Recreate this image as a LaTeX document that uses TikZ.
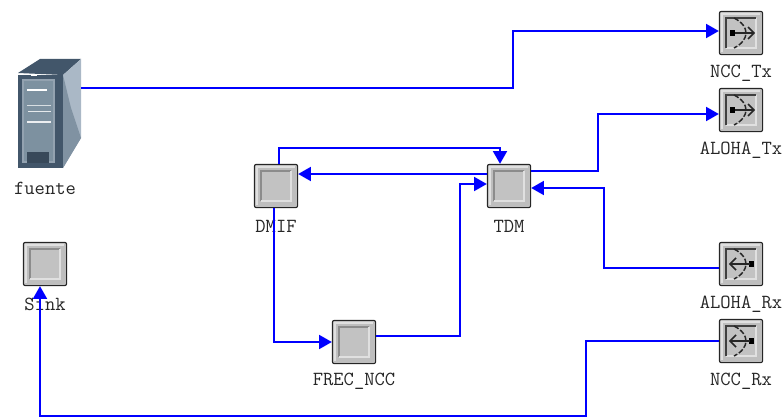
\documentclass[tikz,border=0pt]{standalone}
\usetikzlibrary{arrows.meta, shapes.geometric}
\definecolor{modgray}{RGB}{190,190,190}
\definecolor{linkblue}{RGB}{0,0,255}
\definecolor{srvdark}{RGB}{66,86,106}
\definecolor{srvmid}{RGB}{125,145,160}
\definecolor{srvside}{RGB}{170,184,198}
\definecolor{srvshade}{RGB}{128,146,162}
\tikzset{
    module/.style={draw=black!85, rectangle, rounded corners=1.5pt, thick, fill=modgray, minimum size=32.5pt, inner sep=0pt},
    caption/.style={font=\ttfamily\fontsize{15}{16}\selectfont, text=black!85, inner sep=0pt},
    link/.style={draw=linkblue, line width=1.25pt, -{Triangle[length=9.5pt,width=10.5pt]}},
    bevel/.style={line width=1.3pt},
    antenna/.style={line width=1.1pt, black!85}
}
\begin{document}
\begin{tikzpicture}[x=0.75pt, y=-0.75pt]
    \useasboundingbox (0,0) rectangle (784,417);

    % Server
    \fill[srvdark] (18,73) -- (40,59) -- (81,59) -- (63,75) -- cycle;
    \fill[srvside] (63,75) -- (81,59) -- (81,138) -- (63,168) -- cycle;
    \fill[srvshade] (63,75) -- (71,108) -- (81,138) -- (63,168) -- cycle;
    \fill[srvdark] (18,75) rectangle (63,168);
    \fill[srvshade!85!white] (22,79) rectangle (55,163);
    \fill[srvmid] (24,81) rectangle (53,161);
    \fill[srvdark!85!black] (27,152) rectangle (49,163);
    \fill[white] (31,74) rectangle (37,76);
    \fill[white] (27,89) rectangle (47,91);
    \fill[white!70!srvmid] (27,105) rectangle (51,106);
    \fill[white!80!srvmid] (28,111) rectangle (51,112);
    \fill[white!85!srvmid] (27,121) rectangle (51,123);
    \node (fuente) [minimum width=47.25pt, minimum height=81.75pt, inner sep=0pt] at (49.5,113.5) {};
    \node (fuente_label) [caption] at (45,188) {fuente};

    % Modules
    \node (DMIF) [module] at (276,186) {};
    \node (TDM) [module] at (509,186) {};
    \node (FREC) [module] at (354,342) {};
    \node (Sink) [module] at (45,264) {};
    \node (NCCTx) [module] at (741,33) {};
    \node (ALOHATx) [module] at (741,110) {};
    \node (ALOHARx) [module] at (741,264) {};
    \node (NCCRx) [module] at (741,341) {};

    % Module faces
    \foreach \m in {DMIF,TDM,FREC,Sink,NCCTx,ALOHATx,ALOHARx,NCCRx} {
        \fill[black!24] ([shift={(-15,-15)}]\m.center) rectangle ([shift={(15,15)}]\m.center);
        \draw[bevel, black!12] ([shift={(-19,19)}]\m.center) -- ([shift={(-19,-19)}]\m.center) -- ([shift={(19,-19)}]\m.center);
        \draw[bevel, black!45] ([shift={(-15,15)}]\m.center) -- ([shift={(-15,-15)}]\m.center) -- ([shift={(15,-15)}]\m.center);
        \draw[bevel, black!12] ([shift={(15,-15)}]\m.center) -- ([shift={(15,15)}]\m.center) -- ([shift={(-15,15)}]\m.center);
    }

    % Antenna faces
    \foreach \m in {NCCTx,ALOHATx,ALOHARx,NCCRx} {
        \draw[bevel, black!75] ([shift={(-15,15)}]\m.center) -- ([shift={(-15,-15)}]\m.center) -- ([shift={(15,-15)}]\m.center);
        \draw[antenna, dash pattern=on 4pt off 1.5pt] ([shift={(-7,-15)}]\m.center) .. controls ([shift={(9,-7)}]\m.center) and ([shift={(9,7)}]\m.center) .. ([shift={(-7,15)}]\m.center);
    }
    \foreach \m in {NCCTx,ALOHATx} {
        \fill[black] ([shift={(-11,-3)}]\m.center) rectangle ([shift={(-6,3)}]\m.center);
        \draw[antenna] ([shift={(-6,0)}]\m.center) -- ([shift={(13,0)}]\m.center);
        \draw[antenna] ([shift={(7,-6)}]\m.center) -- ([shift={(13,0)}]\m.center) -- ([shift={(7,6)}]\m.center);
    }
    \foreach \m in {ALOHARx,NCCRx} {
        \fill[black] ([shift={(8,-3)}]\m.center) rectangle ([shift={(13,3)}]\m.center);
        \draw[antenna] ([shift={(-11,0)}]\m.center) -- ([shift={(9,0)}]\m.center);
        \draw[antenna] ([shift={(-5,-6)}]\m.center) -- ([shift={(-11,0)}]\m.center) -- ([shift={(-5,6)}]\m.center);
    }

    % Labels
    \node (DMIF_label) [caption] at (276,226) {DMIF};
    \node (TDM_label) [caption] at (509,226) {TDM};
    \node (FREC_label) [caption] at (354,381) {FREC\_NCC};
    \node (Sink_label) [caption] at (45,304) {Sink};
    \node (NCCTx_label) [caption] at (741,73) {NCC\_Tx};
    \node (ALOHATx_label) [caption] at (741,150) {ALOHA\_Tx};
    \node (ALOHARx_label) [caption] at (741,304) {ALOHA\_Rx};
    \node (NCCRx_label) [caption] at (741,381) {NCC\_Rx};

    % Connectors
    \draw[link] ([shift={(0,-25.5)}]fuente.east) -- ++(432,0) |- ([shift={(0,-2)}]NCCTx.west);
    \draw[link] ([shift={(0,-15)}]TDM.east) -- ++(67,0) |- ([shift={(0,4)}]ALOHATx.west);
    \draw[link] ([shift={(0,4)}]ALOHARx.west) -- ++(-115,0) |- ([shift={(0,2)}]TDM.east);
    \draw[link] ([shift={(3,0)}]DMIF.north) -- ++(0,-16) -| ([shift={(-9,0)}]TDM.north);
    \draw[link] ([shift={(0,-12)}]TDM.west) -- ([shift={(0,-12)}]DMIF.east);
    \draw[link] ([shift={(0,-6)}]FREC.east) -- ++(84,0) |- ([shift={(0,-2)}]TDM.west);
    \draw[link] ([shift={(-2,0)}]DMIF.south) |- (FREC.west);
    \draw[link] (NCCRx.west) -- ++(-133,0) -- ++(0,75) -| ([shift={(-5,0)}]Sink.south);
\end{tikzpicture}
\end{document}
